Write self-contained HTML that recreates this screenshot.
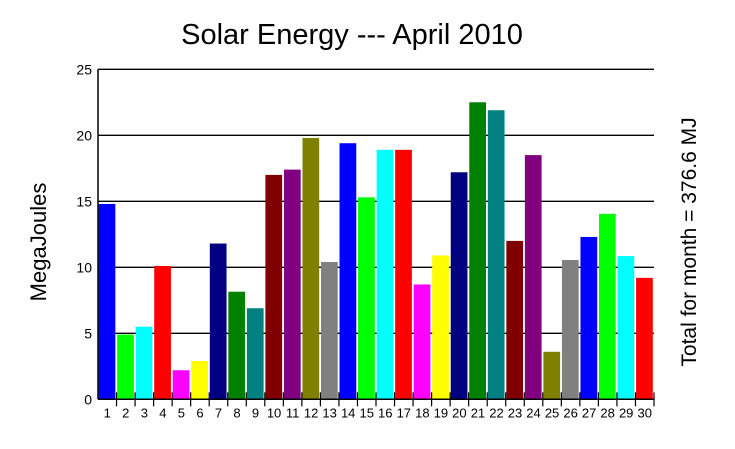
<!DOCTYPE html>
<html><head><meta charset="utf-8"><style>
body{margin:0;background:#fff}
svg{display:block;font-family:"Liberation Sans",Arial,sans-serif}
</style></head><body>
<svg id="chart" width="735" height="449" viewBox="0 0 735 449">
<text x="352" y="44" font-size="29" text-anchor="middle">Solar Energy --- April 2010</text>
<text x="0" y="0" font-size="22" text-anchor="middle" transform="translate(46,242) rotate(-90)">MegaJoules</text>
<text x="0" y="0" font-size="21" text-anchor="middle" transform="translate(696,242) rotate(-90)">Total for month = 376.6 MJ</text>
<g id="grid"></g>
<g id="bars"></g>
<g id="axes"></g>
</svg>
<script>
const days = [1,2,3,4,5,6,7,8,9,10,11,12,13,14,15,16,17,18,19,20,21,22,23,24,25,26,27,28,29,30];
const energy = [14.8,4.9,5.5,10.1,2.2,2.9,11.8,8.15,6.9,17.0,17.4,19.8,10.4,19.4,15.3,18.9,18.9,8.7,10.9,17.2,22.5,21.9,12.0,18.5,3.6,10.55,12.3,14.05,10.85,9.2];
const yTicks = [0,5,10,15,20,25];
const palette = ["#0000ff","#00ff00","#00ffff","#ff0000","#ff00ff","#ffff00","#000080","#008000","#008080","#800000","#800080","#808000","#808080"];
const NS="http://www.w3.org/2000/svg";
const X0=98,X1=654,Y0=399.3,Y1=69.3,YMAX=25;
const slot=(X1-X0)/days.length;
const yS=v=>Y0-(v/YMAX)*(Y0-Y1);
const xS=i=>X0+i*slot;
function mk(t,a,p){const e=document.createElementNS(NS,t);for(const k in a)e.setAttribute(k,a[k]);p.appendChild(e);return e;}
const grid=document.getElementById('grid'),bars=document.getElementById('bars'),axes=document.getElementById('axes');
yTicks.forEach(v=>{
  if(v>0){const l=mk('line',{x1:X0,x2:X1,y1:yS(v),y2:yS(v),stroke:'#000','stroke-width':1.3},grid);
  
  }
  const t=mk('text',{x:X0-6,y:yS(v)+5,'font-size':14,'text-anchor':'end'},axes);
  t.textContent=v;
  
  
});
energy.forEach((v,i)=>{
  const r=mk('rect',{x:xS(i)+0.6,y:yS(v),width:slot-1.8,height:Y0-yS(v),fill:palette[i%palette.length]},bars);
  
  
  const t=mk('text',{x:xS(i)+slot/2,y:Y0+18,'font-size':13,'text-anchor':'middle'},axes);
  t.textContent=days[i];
  
  
  const tk=mk('line',{x1:xS(i+1),x2:xS(i+1),y1:Y0-7,y2:Y0+7,stroke:'#000','stroke-width':1.2},axes);
  
  
});
const ya=mk('line',{x1:X0,x2:X0,y1:Y1,y2:Y0,stroke:'#000','stroke-width':1.5},axes);


const xa=mk('line',{x1:X0,x2:X1,y1:Y0,y2:Y0,stroke:'#000','stroke-width':1.5},axes);


</script>
</body></html>
